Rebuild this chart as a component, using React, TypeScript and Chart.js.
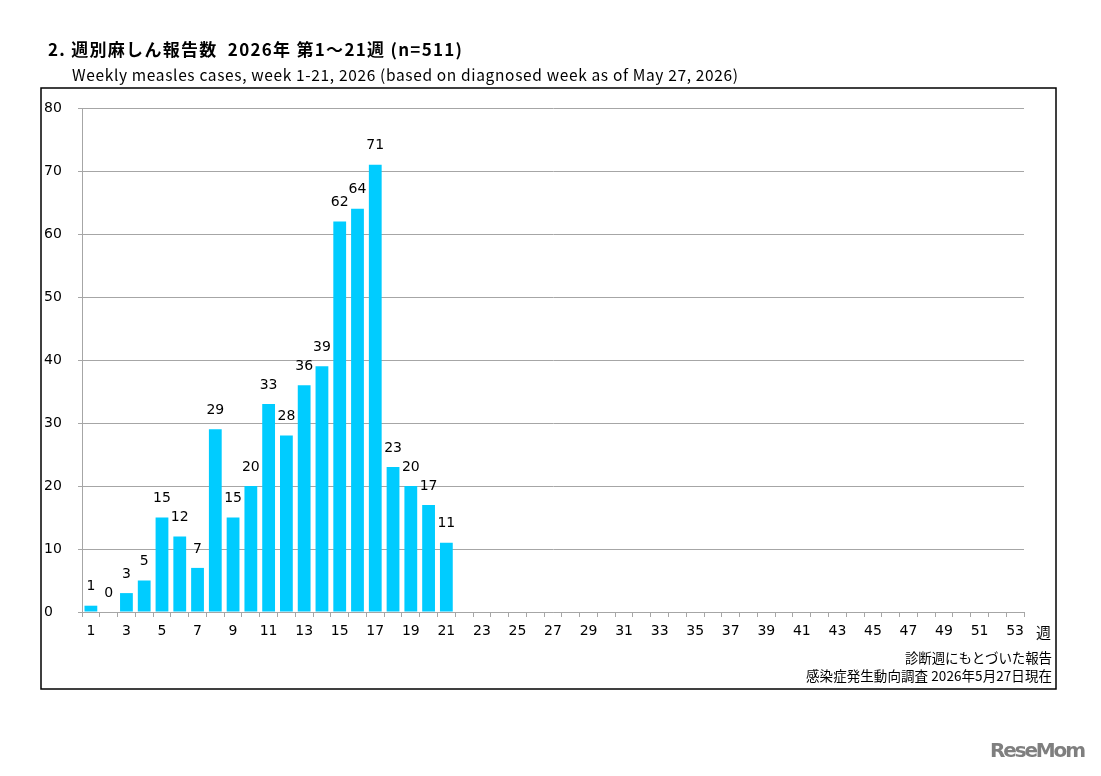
import React, { useEffect, useRef } from "react";
import { Chart, registerables } from "chart.js";

Chart.register(...registerables);

const weeks: string[] = Array.from({ length: 53 }, (_, i) => String(i + 1));
const cases: (number | null)[] = [
  1, 0, 3, 5, 15, 12, 7, 29, 15, 20, 33, 28, 36, 39, 62, 64, 71, 23, 20, 17, 11,
];
const yTicks: number[] = [0, 10, 20, 30, 40, 50, 60, 70, 80];

const titleText = "2. 週別麻しん報告数  2026年 第1～21週 (n=511)";
const subtitleText =
  "Weekly measles cases, week 1-21, 2026 (based on diagnosed week as of May 27, 2026)";
const axisUnit = "週";
const note1 = "診断週にもとづいた報告";
const note2 = "感染症発生動向調査 2026年5月27日現在";
const logoText = "ReseMom";

const FONT = "'DejaVu Sans', Verdana, sans-serif";
const JFONT = "'Noto Sans CJK JP', 'DejaVu Sans', sans-serif";

const data = weeks.map((_, i) => (i < cases.length ? cases[i] : null));

function fitText(ctx: any, text: string, x: number, y: number, width: number, align: string) {
  ctx.letterSpacing = "0px";
  const w = ctx.measureText(text).width;
  const n = Math.max(1, text.length - 1);
  const ls = (width - w) / n;
  ctx.letterSpacing = ls + "px";
  ctx.textAlign = "left";
  const sx = align === "right" ? x - width : x;
  ctx.fillText(text, sx, y);
  ctx.letterSpacing = "0px";
}

const decorPlugin = {
  id: "decor",
  afterDraw(chart: any) {
    const ctx = chart.ctx;
    ctx.save();
    // border box
    ctx.strokeStyle = "#000";
    ctx.lineWidth = 1.5;
    ctx.strokeRect(41, 88, 1015, 601);
    // title
    ctx.fillStyle = "#000";
    ctx.textBaseline = "middle";
    ctx.font = "bold 17px " + JFONT;
    fitText(ctx, titleText, 48, 50, 414, "left");
    ctx.font = "15.5px " + JFONT;
    fitText(ctx, subtitleText, 72, 75, 666, "left");
    // unit
    ctx.textAlign = "left";
    ctx.font = "15px " + JFONT;
    ctx.fillText(axisUnit, 1036, 632);
    // notes
    ctx.font = "13.5px " + JFONT;
    fitText(ctx, note1, 1052, 658, 147, "right");
    fitText(ctx, note2, 1052, 676, 246, "right");
    // logo
    ctx.font = "bold 20px 'DejaVu Sans', sans-serif";
    ctx.fillStyle = "#7f7f7f";
    fitText(ctx, logoText, 1086, 752, 96, "right");
    // value labels
    const meta = chart.getDatasetMeta(0);
    ctx.fillStyle = "#000";
    ctx.textAlign = "center";
    ctx.textBaseline = "bottom";
    ctx.font = "14px " + FONT;
    meta.data.forEach((bar: any, i: number) => {
      const v = chart.data.datasets[0].data[i];
      if (v === null || v === undefined) return;
      ctx.fillText(String(v), bar.x, bar.y - 12);
    });
    ctx.restore();
  },
};

export default function App() {
  const ref = useRef<HTMLCanvasElement | null>(null);
  useEffect(() => {
    if (!ref.current) return;
    const chart = new Chart(ref.current, {
      type: "bar",
      data: {
        labels: weeks,
        datasets: [
          {
            data: data as any,
            backgroundColor: "#00CCFF",
            borderWidth: 0,
            barPercentage: 0.72,
            categoryPercentage: 1,
          },
        ],
      },
      options: {
        animation: false,
        responsive: false,
        layout: { padding: { left: 44, right: 77, top: 108, bottom: 134 } },
        plugins: {
          legend: { display: false },
          tooltip: { enabled: false },
          title: { display: false },
        },
        scales: {
          x: {
            offset: true,
            afterFit: (s: any) => {
              s.height = 30;
            },
            border: { display: true, color: "#a6a6a6", width: 1 },
            grid: {
              offset: true,
              drawOnChartArea: false,
              drawTicks: true,
              tickLength: 5,
              color: "#a6a6a6",
            },
            ticks: {
              autoSkip: false,
              maxRotation: 0,
              padding: 6,
              color: "#000",
              font: { size: 14, family: FONT },
              callback: (_v: any, i: number) => (i % 2 === 0 ? weeks[i] : ""),
            },
          },
          y: {
            min: 0,
            max: 80,
            afterFit: (s: any) => {
              s.width = 38;
            },
            afterBuildTicks: (s: any) => {
              s.ticks = yTicks.map((v) => ({ value: v }));
            },
            border: { display: true, color: "#a6a6a6", width: 1 },
            grid: {
              color: "#a6a6a6",
              tickLength: 4,
              lineWidth: 1,
            },
            ticks: {
              crossAlign: "far",
              color: "#000",
              font: { size: 14, family: FONT },
            },
          },
        },
      },
      plugins: [decorPlugin],
    });
    return () => chart.destroy();
  }, []);
  return (
    <div style={{ position: "absolute", left: 0, top: 0, width: 1101, height: 776, background: "#fff" }}>
      <canvas ref={ref} width={1101} height={776} style={{ display: "block" }} />
    </div>
  );
}
